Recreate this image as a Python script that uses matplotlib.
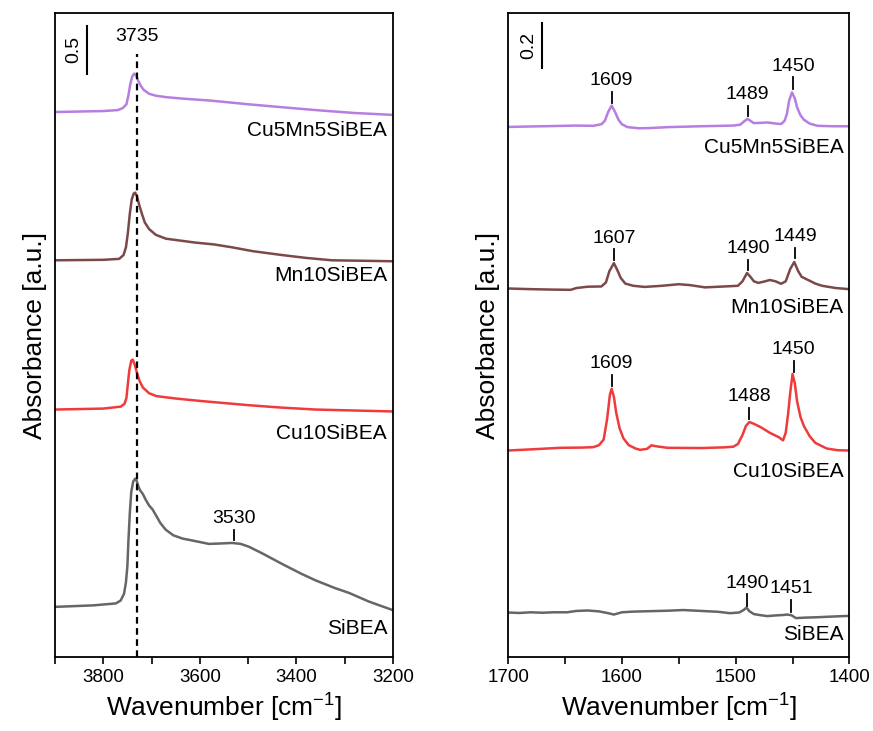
import matplotlib.pyplot as plt
from matplotlib.ticker import MultipleLocator

plt.rcParams['font.family'] = ['Liberation Sans', 'DejaVu Sans']
plt.rcParams['mathtext.default'] = 'regular'

# ---- OH region (left panel), spectra already offset ----
wn_cu5mn5_oh = [3900, 3800, 3770, 3760, 3752, 3748, 3744, 3740, 3736, 3732, 3728, 3722, 3716,
                3705, 3691, 3670, 3637, 3580, 3498, 3430, 3360, 3280, 3200]
ab_cu5mn5_oh = [5.68, 5.69, 5.70, 5.72, 5.76, 5.85, 5.97, 6.05, 6.08, 6.06, 6.01, 5.95, 5.91,
                5.87, 5.85, 5.835, 5.82, 5.80, 5.76, 5.73, 5.70, 5.67, 5.65]

wn_mn10_oh = [3900, 3800, 3767, 3758, 3753, 3749, 3745, 3741, 3737, 3734, 3730, 3726, 3720,
              3714, 3705, 3691, 3670, 3640, 3610, 3570, 3533, 3490, 3430, 3380, 3326, 3260, 3200]
ab_mn10_oh = [4.135, 4.14, 4.15, 4.19, 4.27, 4.42, 4.62, 4.77, 4.83, 4.84, 4.80, 4.72, 4.62,
              4.53, 4.46, 4.40, 4.36, 4.34, 4.32, 4.30, 4.27, 4.23, 4.19, 4.16, 4.135, 4.13, 4.125]

wn_cu10_oh = [3900, 3800, 3764, 3756, 3752, 3749, 3746, 3742, 3739, 3735, 3730, 3725, 3718,
              3705, 3690, 3650, 3600, 3498, 3430, 3360, 3280, 3200]
ab_cu10_oh = [2.58, 2.59, 2.61, 2.64, 2.70, 2.85, 2.99, 3.09, 3.10, 3.05, 2.96, 2.88, 2.81,
              2.75, 2.72, 2.695, 2.67, 2.625, 2.60, 2.58, 2.57, 2.56]

wn_si_oh = [3900, 3820, 3774, 3764, 3757, 3753, 3750, 3748, 3745, 3742, 3738, 3734, 3731,
            3728, 3724, 3718, 3712, 3705, 3698, 3691, 3682, 3671, 3655, 3636, 3610, 3581,
            3555, 3533, 3515, 3498, 3470, 3429, 3390, 3360, 3320, 3291, 3250, 3200]
ab_si_oh = [0.524, 0.54, 0.56, 0.59, 0.66, 0.78, 0.95, 1.20, 1.50, 1.72, 1.83, 1.86, 1.84,
            1.79, 1.74, 1.70, 1.64, 1.58, 1.54, 1.48, 1.40, 1.33, 1.27, 1.236, 1.21, 1.18,
            1.185, 1.19, 1.18, 1.15, 1.08, 0.97, 0.87, 0.80, 0.72, 0.67, 0.58, 0.49]

# ---- pyridine region (right panel) ----
wn_cu5mn5_py = [1700, 1680, 1660, 1640, 1625, 1618, 1615, 1612, 1609, 1606, 1603, 1600, 1595,
                1585, 1575, 1560, 1531, 1502, 1496, 1492, 1489.5, 1487, 1484, 1478, 1472, 1465,
                1460, 1457, 1455, 1453, 1450.5, 1448, 1446, 1443, 1440, 1435, 1428, 1415, 1400]
ab_cu5mn5_py = [2.363, 2.365, 2.367, 2.369, 2.368, 2.375, 2.39, 2.43, 2.458, 2.43, 2.395, 2.375, 2.362,
                2.357, 2.358, 2.362, 2.366, 2.369, 2.373, 2.39, 2.399, 2.39, 2.38, 2.381, 2.383, 2.378,
                2.376, 2.39, 2.42, 2.48, 2.517, 2.49, 2.45, 2.415, 2.395, 2.378, 2.368, 2.366, 2.366]

wn_mn10_py = [1700, 1680, 1660, 1645, 1640, 1630, 1618, 1614, 1611, 1607, 1604, 1601, 1597,
              1590, 1580, 1565, 1550, 1540, 1527, 1510, 1498, 1494, 1490, 1487, 1484, 1480,
              1474, 1470, 1465, 1460, 1456, 1452, 1448.5, 1445, 1442, 1436, 1430, 1424, 1412, 1400]
ab_mn10_py = [1.643, 1.64, 1.638, 1.637, 1.645, 1.651, 1.652, 1.67, 1.72, 1.756, 1.725, 1.69, 1.665,
              1.655, 1.65, 1.655, 1.662, 1.658, 1.648, 1.652, 1.655, 1.675, 1.712, 1.695, 1.675, 1.668,
              1.675, 1.681, 1.675, 1.664, 1.675, 1.73, 1.761, 1.72, 1.695, 1.68, 1.665, 1.655, 1.645, 1.64]

wn_cu10_py = [1700, 1680, 1654, 1635, 1625, 1620, 1616, 1613, 1610.5, 1609, 1607, 1605, 1602,
              1598.6, 1594, 1588, 1584, 1578, 1574, 1570, 1560, 1530, 1510, 1502, 1498, 1494,
              1491, 1488, 1484, 1478, 1470, 1462, 1458.4, 1456, 1454, 1452, 1450, 1448, 1446,
              1443, 1440, 1435, 1430, 1420, 1410, 1400]
ab_cu10_py = [0.921, 0.926, 0.933, 0.934, 0.936, 0.945, 0.97, 1.06, 1.17, 1.196, 1.16, 1.09, 1.02,
              0.975, 0.945, 0.93, 0.924, 0.928, 0.944, 0.94, 0.933, 0.932, 0.935, 0.938, 0.95, 0.99,
              1.03, 1.048, 1.04, 1.025, 1.0, 0.98, 0.966, 1.0, 1.08, 1.18, 1.262, 1.22, 1.14,
              1.07, 1.03, 0.985, 0.955, 0.93, 0.922, 0.921]

wn_si_py = [1700, 1690, 1680, 1670, 1660, 1648, 1640, 1630, 1620, 1612, 1607, 1600, 1590, 1575,
            1560, 1546, 1530, 1515, 1505, 1497, 1493, 1490.5, 1488, 1484, 1478, 1472, 1465, 1458,
            1455, 1451, 1447, 1440, 1428, 1415, 1400]
ab_si_py = [0.199, 0.197, 0.2, 0.198, 0.2, 0.2, 0.206, 0.208, 0.204, 0.196, 0.19, 0.2, 0.203, 0.205,
            0.207, 0.21, 0.206, 0.202, 0.196, 0.199, 0.21, 0.221, 0.205, 0.192, 0.187, 0.183, 0.186, 0.188,
            0.19, 0.187, 0.174, 0.176, 0.178, 0.181, 0.184]

samples = ['Cu5Mn5SiBEA', 'Mn10SiBEA', 'Cu10SiBEA', 'SiBEA']
colors = ['#b57ee0', '#7b4a48', '#ef3b3b', '#666666']

# peak marks: (wavenumber, tick bottom, tick top, label)
peaks_oh = [(3530, 1.22, 1.33, '3530')]
peaks_py = [(1609, 2.47, 2.52, '1609'), (1489.5, 2.41, 2.457, '1489'), (1449.6, 2.532, 2.584, '1450'),
            (1606.8, 1.77, 1.818, '1607'), (1489, 1.726, 1.77, '1490'), (1447.6, 1.78, 1.825, '1449'),
            (1609, 1.208, 1.258, '1609'), (1488, 1.062, 1.11, '1488'), (1449, 1.27, 1.321, '1450'),
            (1490, 0.23, 0.28, '1490'), (1451.4, 0.203, 0.255, '1451')]
label_y_oh = [5.49, 3.98, 2.33, 0.30]
label_y_py = [2.27, 1.56, 0.828, 0.102]

fig = plt.figure(figsize=(8.73, 7.31), dpi=100)
ax1 = fig.add_axes([0.063, 0.101, 0.387, 0.881])
ax2 = fig.add_axes([0.582, 0.101, 0.391, 0.881])

oh = [(wn_cu5mn5_oh, ab_cu5mn5_oh), (wn_mn10_oh, ab_mn10_oh), (wn_cu10_oh, ab_cu10_oh), (wn_si_oh, ab_si_oh)]
py = [(wn_cu5mn5_py, ab_cu5mn5_py), (wn_mn10_py, ab_mn10_py), (wn_cu10_py, ab_cu10_py), (wn_si_py, ab_si_py)]

for (x, y), c in zip(oh, colors):
    ax1.plot(x, y, color=c, lw=1.8, solid_joinstyle='round')
for (x, y), c in zip(py, colors):
    ax2.plot(x, y, color=c, lw=1.8, solid_joinstyle='round')

for name, yy in zip(samples, label_y_oh):
    ax1.text(3212, yy, name, ha='right', va='center', fontsize=15)
for name, yy in zip(samples, label_y_py):
    ax2.text(1405, yy, name, ha='right', va='center', fontsize=15)

for x, y0, y1, lab in peaks_oh:
    ax1.plot([x, x], [y0, y1], color='black', lw=1.3)
    ax1.text(x, y1 + 0.03, lab, ha='center', va='bottom', fontsize=14)
for x, y0, y1, lab in peaks_py:
    ax2.plot([x, x], [y0, y1], color='black', lw=1.3)
    ax2.text(x, y1 + 0.012, lab, ha='center', va='bottom', fontsize=14)

# dashed reference line at the free Si-OH band
ax1.plot([3731, 3731], [0, 6.28], color='black', lw=1.6, ls=(0, (3, 2)))
ax1.text(3731, 6.38, '3735', ha='center', va='bottom', fontsize=14)

# scale bars
ax1.plot([3833, 3833], [6.08, 6.58], color='black', lw=1.5)
ax1.text(3861, 6.33, '0.5', rotation=90, ha='center', va='center', fontsize=14)
ax2.plot([1670.4, 1670.4], [2.627, 2.827], color='black', lw=1.5)
ax2.text(1681.5, 2.727, '0.2', rotation=90, ha='center', va='center', fontsize=14)

ax1.set_xlim(3900, 3200)
ax1.set_ylim(0, 6.71)
ax1.xaxis.set_major_locator(MultipleLocator(200))
ax1.xaxis.set_minor_locator(MultipleLocator(100))
ax2.set_xlim(1700, 1400)
ax2.set_ylim(0, 2.87)
ax2.xaxis.set_major_locator(MultipleLocator(100))
ax2.xaxis.set_minor_locator(MultipleLocator(50))

for ax in (ax1, ax2):
    ax.set_yticks([])
    ax.tick_params(axis='x', which='both', direction='out', length=5, width=1.2, labelsize=13.5)
    for s in ax.spines.values():
        s.set_linewidth(1.3)
    ax.set_xlabel('Wavenumber [cm$^{-1}$]', fontsize=19)
    ax.set_ylabel('Absorbance [a.u.]', fontsize=19, labelpad=6)

plt.savefig('out.png', dpi=100)
